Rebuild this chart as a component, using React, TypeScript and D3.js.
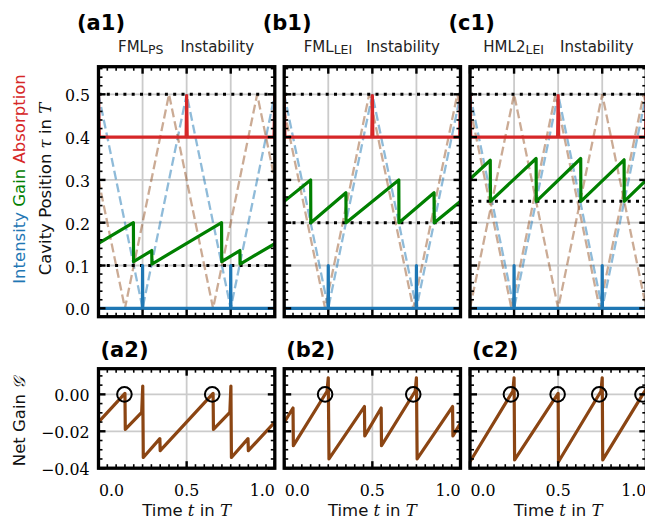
import React from 'react';
import * as d3 from 'd3';

// ---------- data ----------
const panelLetters1 = ['(a1)', '(b1)', '(c1)'];
const panelLetters2 = ['(a2)', '(b2)', '(c2)'];
const titleMain = ['FML', 'FML', 'HML2'];
const titleSub = ['PS', 'LEI', 'LEI'];

const tauTicks = [0, 0.1, 0.2, 0.3, 0.4, 0.5];
const tauTickLabels = ['0.0', '0.1', '0.2', '0.3', '0.4', '0.5'];
const gainTicks = [0, -0.02, -0.04];
const gainTickLabels = ['0.00', '\u22120.02', '\u22120.04'];
const timeTicks = [0, 0.5, 1];
const timeTickLabels = ['0.0', '0.5', '1.0'];

// dotted reference levels per panel
const dottedLevels = [[0.5, 0.1], [0.5, 0.2], [0.5, 0.25]];

// absorption (red), same for all panels
const absorption: [number, number][] = [[0, 0.5], [0.004, 0.4], [0.497, 0.4], [0.5, 0.497], [0.503, 0.4], [0.996, 0.4], [1, 0.5]];
// intensity (blue solid)
const intensity: [number, number][] = [[0, 0], [0.249, 0], [0.25, 0.1], [0.251, 0], [0.749, 0], [0.75, 0.1], [0.751, 0], [1, 0]];
// pulse trajectory (blue dashed)
const pulsePath: [number, number][] = [[0, 0.5], [0.25, 0], [0.5, 0.5], [0.75, 0], [1, 0.5]];

// brown dashed trajectories per panel
const brownPathsA: [number, number][][] = [
  [[0, 0.3], [0.15, 0], [0.4, 0.5], [0.65, 0], [0.9, 0.5], [1, 0.3]],
];
const brownPathsB: [number, number][][] = [
  [[0, 0.464], [0.232, 0], [0.482, 0.5], [0.732, 0], [0.982, 0.5], [1, 0.464]],
];
const brownPathsC: [number, number][][] = [
  [[0, 0.47], [0.235, 0], [0.485, 0.5], [0.735, 0], [0.985, 0.5], [1, 0.47]],
  [[0, 0], [0.25, 0.5], [0.5, 0], [0.75, 0.5], [1, 0]],
];
const brownPaths = [brownPathsA, brownPathsB, brownPathsC];

// gain (green)
const gainA: [number, number][] = [[0, 0.152], [0.198, 0.2], [0.199, 0.109], [0.302, 0.135], [0.303, 0.1035], [0.698, 0.2], [0.699, 0.109], [0.802, 0.135], [0.803, 0.1035], [1, 0.151]];
const gainB: [number, number][] = [[0, 0.25], [0.15, 0.3], [0.151, 0.2], [0.35, 0.27], [0.351, 0.2], [0.65, 0.3], [0.651, 0.2], [0.85, 0.27], [0.851, 0.2], [1, 0.25]];
const gainC: [number, number][] = [[0, 0.302], [0.115, 0.346], [0.116, 0.25], [0.375, 0.35], [0.376, 0.25], [0.628, 0.35], [0.629, 0.25], [0.874, 0.347], [0.875, 0.25], [1, 0.3]];
const gainSeries = [gainA, gainB, gainC];

// net gain (brown solid)
const netA: [number, number][] = [[0, -0.015], [0.15, 0.0005], [0.152, -0.019], [0.245, -0.0098], [0.251, 0.0045], [0.254, -0.0342], [0.348, -0.024], [0.35, -0.0305], [0.65, 0.0005], [0.652, -0.019], [0.745, -0.0098], [0.751, 0.0045], [0.754, -0.0342], [0.848, -0.024], [0.85, -0.0305], [1, -0.015]];
const netB: [number, number][] = [[0, -0.0152], [0.05, -0.0074], [0.052, -0.0278], [0.243, 0.0017], [0.25, 0.009], [0.254, -0.035], [0.455, -0.0066], [0.457, -0.0225], [0.55, -0.0074], [0.552, -0.0278], [0.743, 0.0017], [0.75, 0.009], [0.754, -0.035], [0.955, -0.0066], [0.957, -0.0225], [1, -0.0155]];
const netC: [number, number][] = [[0, -0.0365], [0.243, 0.0017], [0.25, 0.009], [0.253, -0.0355], [0.498, 0.0003], [0.5, 0.0005], [0.502, -0.0365], [0.743, 0.0017], [0.75, 0.009], [0.753, -0.0355], [0.98, 0], [1, 0.003]];
const netSeries = [netA, netB, netC];

const circleTimes = [[0.147, 0.645], [0.232, 0.732], [0.232, 0.497, 0.733, 0.978]];

// ---------- layout ----------
const W = 645, H = 525;
const panelX = [98.5, 284.2, 470];
const panelW = 176.3;
const topY = [66.7, 316.7];
const botY = [368.7, 468.2];
const tauDomain = [-0.0196, 0.5645];
const gainDomain = [-0.04, 0.0139];

const C_BLUE = '#1f77b4';
const C_RED = '#d62728';
const C_GREEN = '#008000';
const C_BROWN = '#8b4513';
const C_GRID = '#cbcbcb';
const SANS = 'DejaVu Sans, sans-serif';
const SERIF = 'DejaVu Serif, serif';

function range(a: number, b: number, s: number) {
  const out: number[] = [];
  for (let v = a; v <= b + 1e-9; v += s) out.push(Math.round(v * 1e6) / 1e6);
  return out;
}
function isMajor(v: number, majors: number[]) {
  return majors.some((m) => Math.abs(m - v) < 1e-6);
}

function Ticks({ x, y, xMaj, xMin, yMaj, yMin, x0, x1, y0, y1 }: any) {
  const L = 7, l = 4;
  const els: any[] = [];
  xMaj.forEach((v: number, k: number) => {
    const px = x(v);
    els.push(<line key={'xb' + k} x1={px} x2={px} y1={y1} y2={y1 - L} stroke="#000" strokeWidth={2.4} />);
    els.push(<line key={'xt' + k} x1={px} x2={px} y1={y0} y2={y0 + L} stroke="#000" strokeWidth={2.4} />);
  });
  xMin.filter((v: number) => !isMajor(v, xMaj)).forEach((v: number, k: number) => {
    const px = x(v);
    els.push(<line key={'xbm' + k} x1={px} x2={px} y1={y1} y2={y1 - l} stroke="#000" strokeWidth={1.6} />);
    els.push(<line key={'xtm' + k} x1={px} x2={px} y1={y0} y2={y0 + l} stroke="#000" strokeWidth={1.6} />);
  });
  yMaj.forEach((v: number, k: number) => {
    const py = y(v);
    if (py < y0 - 0.5 || py > y1 + 0.5) return;
    els.push(<line key={'yl' + k} x1={x0} x2={x0 + L} y1={py} y2={py} stroke="#000" strokeWidth={2.4} />);
    els.push(<line key={'yr' + k} x1={x1} x2={x1 - L} y1={py} y2={py} stroke="#000" strokeWidth={2.4} />);
  });
  yMin.filter((v: number) => !isMajor(v, yMaj)).forEach((v: number, k: number) => {
    const py = y(v);
    if (py < y0 + 1 || py > y1 - 1) return;
    els.push(<line key={'ylm' + k} x1={x0} x2={x0 + l} y1={py} y2={py} stroke="#000" strokeWidth={1.6} />);
    els.push(<line key={'yrm' + k} x1={x1} x2={x1 - l} y1={py} y2={py} stroke="#000" strokeWidth={1.6} />);
  });
  return <g>{els}</g>;
}

function TopPanel({ i }: { i: number }) {
  const x0 = panelX[i], x1 = panelX[i] + panelW;
  const [y0, y1] = topY;
  const x = d3.scaleLinear().domain([0, 1]).range([x0, x1]);
  const y = d3.scaleLinear().domain(tauDomain).range([y1, y0]);
  const line = d3.line<[number, number]>().x((d) => x(d[0])).y((d) => y(d[1]));
  const clipId = 'clipT' + i;
  return (
    <g>
      <defs>
        <clipPath id={clipId}><rect x={x0} y={y0} width={x1 - x0} height={y1 - y0} /></clipPath>
      </defs>
      <g clipPath={`url(#${clipId})`}>
        {[0.25, 0.5, 0.75].map((v) => <line key={'gx' + v} x1={x(v)} x2={x(v)} y1={y0} y2={y1} stroke={C_GRID} strokeWidth={1.8} />)}
        {tauTicks.map((v) => <line key={'gy' + v} x1={x0} x2={x1} y1={y(v)} y2={y(v)} stroke={C_GRID} strokeWidth={1.8} />)}
        <path d={line(pulsePath) || ''} fill="none" stroke={C_BLUE} strokeOpacity={0.5} strokeWidth={2.3} strokeDasharray="9,4" />
        {brownPaths[i].map((p, k) => (
          <path key={'bp' + k} d={line(p) || ''} fill="none" stroke={C_BROWN} strokeOpacity={0.45} strokeWidth={2.3} strokeDasharray="9,4" />
        ))}
        {dottedLevels[i].map((v) => (
          <line key={'dl' + v} x1={x0} x2={x1} y1={y(v)} y2={y(v)} stroke="#000" strokeWidth={3} strokeDasharray="3,5.3" />
        ))}
        <path d={line(absorption) || ''} fill="none" stroke={C_RED} strokeWidth={3.2} strokeLinejoin="round" />
        <path d={line(intensity) || ''} fill="none" stroke={C_BLUE} strokeWidth={3.2} strokeLinejoin="round" />
        <path d={line(gainSeries[i]) || ''} fill="none" stroke={C_GREEN} strokeWidth={3.2} strokeLinejoin="round" />
      </g>
      <Ticks x={x} y={y} xMaj={[0, 0.25, 0.5, 0.75, 1]} xMin={range(0, 1, 0.05)} yMaj={tauTicks} yMin={range(0, 0.56, 0.02)} x0={x0} x1={x1} y0={y0} y1={y1} />
      <rect x={x0} y={y0} width={x1 - x0} height={y1 - y0} fill="none" stroke="#000" strokeWidth={3.3} />
      {i === 0 && tauTicks.map((v, k) => (
        <text key={'tl' + k} x={x0 - 8.5} y={y(v) + 1.5} textAnchor="end" dominantBaseline="central" fontFamily={SERIF} fontSize={15.8}>{tauTickLabels[k]}</text>
      ))}
      <text x={x0 - 21.5} y={29.5} fontFamily={SANS} fontWeight="bold" fontSize={21}>{panelLetters1[i]}</text>
      <text x={x0 + (i === 2 ? 13.3 : 19.5)} y={51.7} fontFamily={SANS} fontSize={15} fill="#222">
        {titleMain[i]}
        <tspan fontSize={12.5} dy={2.5}>{titleSub[i]}</tspan>
        <tspan x={x0 + (i === 2 ? 90 : 82)} dy={-2.5}>Instability</tspan>
      </text>
    </g>
  );
}

function BottomPanel({ i }: { i: number }) {
  const x0 = panelX[i], x1 = panelX[i] + panelW;
  const [y0, y1] = botY;
  const x = d3.scaleLinear().domain([0, 1]).range([x0, x1]);
  const y = d3.scaleLinear().domain(gainDomain).range([y1, y0]);
  const line = d3.line<[number, number]>().x((d) => x(d[0])).y((d) => y(d[1]));
  const clipId = 'clipB' + i;
  return (
    <g>
      <defs>
        <clipPath id={clipId}><rect x={x0} y={y0} width={x1 - x0} height={y1 - y0} /></clipPath>
      </defs>
      <g clipPath={`url(#${clipId})`}>
        <line x1={x(0.5)} x2={x(0.5)} y1={y0} y2={y1} stroke={C_GRID} strokeWidth={1.8} />
        {[0, -0.02].map((v) => <line key={'gy' + v} x1={x0} x2={x1} y1={y(v)} y2={y(v)} stroke={C_GRID} strokeWidth={1.8} />)}
        <path d={line(netSeries[i]) || ''} fill="none" stroke={C_BROWN} strokeWidth={3.2} strokeLinejoin="round" />
        {circleTimes[i].map((t, k) => (
          <circle key={'c' + k} cx={x(t)} cy={y(0)} r={7.3} fill="none" stroke="#000" strokeWidth={2} />
        ))}
      </g>
      <Ticks x={x} y={y} xMaj={timeTicks} xMin={range(0, 1, 0.05)} yMaj={gainTicks} yMin={range(-0.04, 0.01, 0.005)} x0={x0} x1={x1} y0={y0} y1={y1} />
      <rect x={x0} y={y0} width={x1 - x0} height={y1 - y0} fill="none" stroke="#000" strokeWidth={3.3} />
      {i === 0 && gainTicks.map((v, k) => (
        <text key={'gl' + k} x={x0 - 9} y={y(v) + 1.5} textAnchor="end" dominantBaseline="central" fontFamily={SERIF} fontSize={15.8}>{gainTickLabels[k]}</text>
      ))}
      {timeTicks.map((v, k) => (
        <text key={'xl' + k} x={k === 0 ? x(v) + 0.5 : x(v)} y={495.5}
          textAnchor={k === 0 ? 'start' : k === 2 ? 'end' : 'middle'} fontFamily={SERIF} fontSize={15.8}>{timeTickLabels[k]}</text>
      ))}
      <text x={(x0 + x1) / 2} y={515.5} textAnchor="middle" fontFamily={SANS} fontSize={16.5} fill="#111">
        Time <tspan fontFamily={SERIF} fontStyle="italic">t</tspan> in <tspan fontFamily={SERIF} fontStyle="italic">T</tspan>
      </text>
      <text x={x0 + 2} y={357.3} fontFamily={SANS} fontWeight="bold" fontSize={21}>{panelLetters2[i]}</text>
    </g>
  );
}

export default function App() {
  return (
    <svg width={W} height={H} viewBox={`0 0 ${W} ${H}`} style={{ position: 'absolute', left: 0, top: 0, background: '#fff' }}>
      <rect width={W} height={H} fill="#fff" />
      {[0, 1, 2].map((i) => <TopPanel key={'t' + i} i={i} />)}
      {[0, 1, 2].map((i) => <BottomPanel key={'b' + i} i={i} />)}
      <text transform="translate(50.8,189) rotate(-90)" textAnchor="middle" fontFamily={SANS} fontSize={16.5} fill="#111">
        Cavity Position <tspan fontFamily={SERIF} fontStyle="italic">τ</tspan> in <tspan fontFamily={SERIF} fontStyle="italic">T</tspan>
      </text>
      <text transform="translate(24.5,179) rotate(-90)" textAnchor="middle" fontFamily={SANS} fontSize={16.5}>
        <tspan fill={C_BLUE}>Intensity</tspan>
        <tspan fill={C_GREEN}> Gain</tspan>
        <tspan fill={C_RED}> Absorption</tspan>
      </text>
      <text transform="translate(25,421.5) rotate(-90)" textAnchor="middle" fontFamily={SANS} fontSize={16.5} fill="#111">
        Net Gain <tspan fontFamily={SERIF} fontStyle="italic">𝒢</tspan>
      </text>
    </svg>
  );
}
